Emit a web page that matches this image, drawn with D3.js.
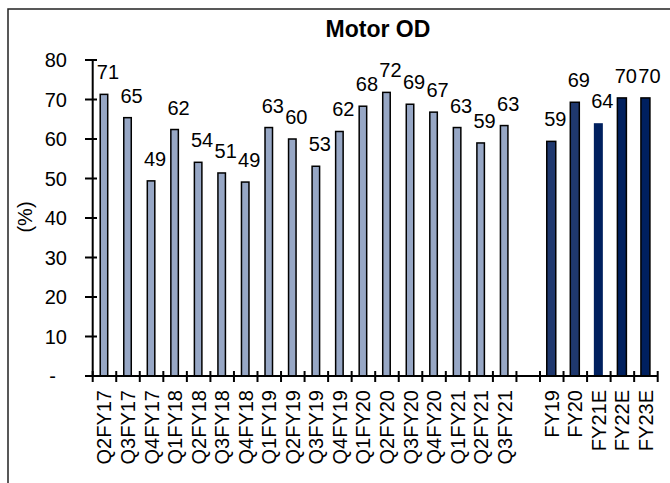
<!DOCTYPE html>
<html>
<head>
<meta charset="utf-8">
<script src="https://cdn.jsdelivr.net/npm/d3@7"></script>
<style>
  body { margin: 0; background: #fff; }
  svg { display: block; font-family: Arial, "Liberation Sans", sans-serif; }
</style>
</head>
<body>
<div id="graphic"></div>
<script>
// categories (blank slot separates quarters from years)
var categories = ["Q2FY17","Q3FY17","Q4FY17","Q1FY18","Q2FY18","Q3FY18","Q4FY18",
                  "Q1FY19","Q2FY19","Q3FY19","Q4FY19","Q1FY20","Q2FY20","Q3FY20",
                  "Q4FY20","Q1FY21","Q2FY21","Q3FY21","gap1","FY19","FY20","FY21E","FY22E","FY23E"];
var values = [71.3, 65.4, 49.4, 62.4, 54.1, 51.4, 49.1, 62.9, 60.0, 53.1, 61.9, 68.3,
              71.8, 68.8, 66.8, 62.9, 59.0, 63.4, null, 59.4, 69.3, 64.0, 70.4, 70.4];
var yTicks = [0, 10, 20, 30, 40, 50, 60, 70, 80];

var W = 670, H = 483;
var svg = d3.select("#graphic").append("svg")
            .attr("width", W)
            .attr("height", H);

// outer frame (runs off the right / bottom edge)
svg.append("rect")
   .attr("x", 8).attr("y", 9)
   .attr("width", 700).attr("height", 500)
   .attr("fill", "none").attr("stroke", "#222").attr("stroke-width", 1.5);

var x = d3.scaleBand().domain(categories).range([92.7, 657.7]).padding(0);
var y = d3.scaleLinear().domain([0, 80]).range([376, 60]);

function isQuarter(c) { return c.indexOf("Q") === 0; }
function barColor(c) {
  if (isQuarter(c)) return "#97a7c5";
  if (c === "FY19" || c === "FY20") return "#1f386e";
  return "#00205f";
}
function barW(c) { return isQuarter(c) ? 7.5 : 9; }

var data = categories.map(function (c, i) { return { cat: c, v: values[i] }; })
                     .filter(function (d) { return d.v !== null; });

// bars
svg.append("g").selectAll("rect")
   .data(data).enter().append("rect")
   .attr("x", function (d) { return x(d.cat) + x.bandwidth() / 2 - 0.5 - barW(d.cat) / 2; })
   .attr("y", function (d) { return y(d.v); })
   .attr("width", function (d) { return barW(d.cat); })
   .attr("height", function (d) { return y(0) - y(d.v); })
   .attr("fill", function (d) { return barColor(d.cat); })
   .attr("stroke", function (d) { return d.cat === "FY21E" ? "none" : "#000"; })
   .attr("stroke-width", 1.5);

// data labels
svg.append("g").selectAll("text")
   .data(data).enter().append("text")
   .attr("x", function (d) { return x(d.cat) + x.bandwidth() / 2 + 3.5; })
   .attr("y", function (d) { return y(d.v) - 15; })
   .attr("text-anchor", "middle")
   .attr("font-size", 20)
   .attr("fill", "#000")
   .text(function (d) { return Math.round(d.v); });

// y axis
var yAxis = svg.append("g");
yAxis.append("line")
     .attr("x1", 92.7).attr("x2", 92.7)
     .attr("y1", y(80)).attr("y2", y(0))
     .attr("stroke", "#000").attr("stroke-width", 2);
yAxis.selectAll("line.tick").data(yTicks).enter().append("line")
     .attr("class", "tick")
     .attr("x1", 85).attr("x2", 97)
     .attr("y1", function (d) { return y(d); })
     .attr("y2", function (d) { return y(d); })
     .attr("stroke", "#000").attr("stroke-width", 2);
yAxis.selectAll("text").data(yTicks).enter().append("text")
     .attr("x", function (d) { return d === 0 ? 56 : 67; })
     .attr("y", function (d) { return y(d); })
     .attr("dy", "0.35em")
     .attr("text-anchor", "end")
     .attr("font-size", 20)
     .text(function (d) { return d === 0 ? "-" : d; });

// x axis
var xAxis = svg.append("g");
xAxis.append("line")
     .attr("x1", 92.7).attr("x2", 657.7)
     .attr("y1", y(0)).attr("y2", y(0))
     .attr("stroke", "#000").attr("stroke-width", 2);
var tickPos = categories.map(function (c) { return x(c); }).concat([x.range()[1]]);
xAxis.selectAll("line.tick").data(tickPos).enter().append("line")
     .attr("class", "tick")
     .attr("x1", function (d) { return d; }).attr("x2", function (d) { return d; })
     .attr("y1", y(0) - 5).attr("y2", y(0) + 6)
     .attr("stroke", "#000").attr("stroke-width", 2);
xAxis.selectAll("text")
     .data(categories.filter(function (c) { return c.indexOf("gap") !== 0; }))
     .enter().append("text")
     .attr("transform", function (c) {
       return "translate(" + (x(c) + x.bandwidth() / 2) + "," + 390 + ") rotate(-90)";
     })
     .attr("dy", "0.35em")
     .attr("text-anchor", "end")
     .attr("font-size", 20)
     .text(function (c) { return c; });

// axis title
svg.append("text")
   .attr("transform", "translate(25,217) rotate(-90)")
   .attr("dy", "0.35em")
   .attr("text-anchor", "middle")
   .attr("font-size", 20)
   .text("(%)");

// chart title
svg.append("text")
   .attr("x", 378).attr("y", 37)
   .attr("text-anchor", "middle")
   .attr("font-size", 23)
   .attr("font-weight", "bold")
   .text("Motor OD");
</script>
</body>
</html>
